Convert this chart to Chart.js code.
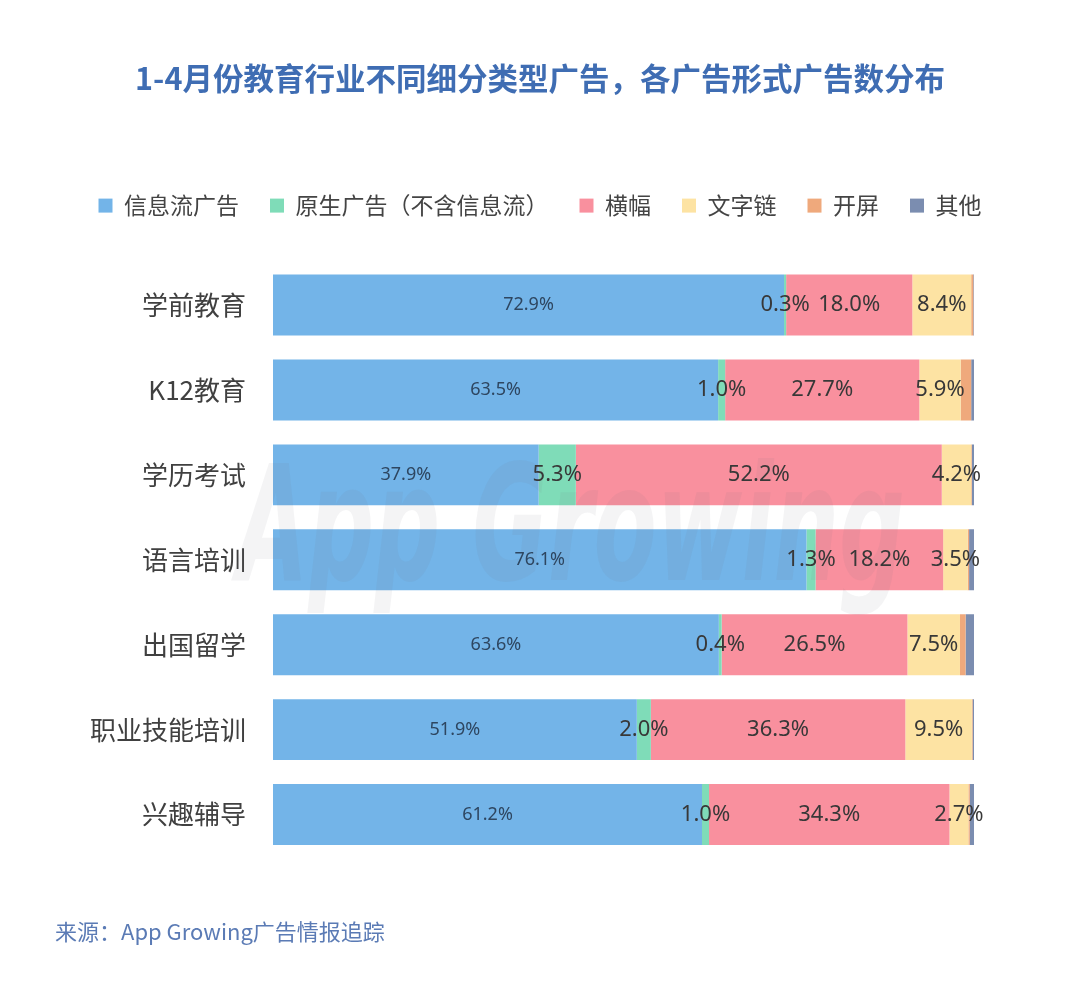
<!DOCTYPE html>
<html><head><meta charset="utf-8">
<script src="https://cdn.jsdelivr.net/npm/chart.js@4.4.1/dist/chart.umd.min.js"></script>
<style>html,body{margin:0;padding:0;background:#fff;}#wrap{width:1080px;height:987px;position:relative;}</style>
</head><body><div id="wrap"><canvas id="c" width="1080" height="987"></canvas></div>
<script>
const titleText = '1-4月份教育行业不同细分类型广告，各广告形式广告数分布';
const sourceText = '来源：App Growing广告情报追踪';
const watermarkText = 'App Growing';
const categories = ['学前教育', 'K12教育', '学历考试', '语言培训', '出国留学', '职业技能培训', '兴趣辅导'];
const seriesNames = ['信息流广告', '原生广告（不含信息流）', '横幅', '文字链', '开屏', '其他'];
const xinxiliu = [72.9, 63.5, 37.9, 76.1, 63.6, 51.9, 61.2];
const yuansheng = [0.3, 1.0, 5.3, 1.3, 0.4, 2.0, 1.0];
const hengfu = [18.0, 27.7, 52.2, 18.2, 26.5, 36.3, 34.3];
const wenzilian = [8.4, 5.9, 4.2, 3.5, 7.5, 9.5, 2.7];
const kaiping = [0.3, 1.5, 0.1, 0.2, 0.8, 0.1, 0.2];
const qita = [0.1, 0.4, 0.3, 0.7, 1.2, 0.2, 0.6];
const seriesValues = [xinxiliu, yuansheng, hengfu, wenzilian, kaiping, qita];
const seriesColors = ['#73b4e8', '#7fdcb8', '#f9909e', '#fde3a3', '#efa97c', '#7b8db0'];
const labeledSeries = [0, 1, 2, 3];

const FONT = '"Noto Sans", "Noto Sans CJK SC", sans-serif';
const CJK = '"Noto Sans CJK SC", "Noto Sans", sans-serif';

const extras = {
  id: 'extras',
  afterDatasetsDraw(chart) {
    const ctx = chart.ctx;
    // faint watermark
    ctx.save();
    ctx.font = 'italic bold 160px "DejaVu Sans", sans-serif';
    const w = ctx.measureText(watermarkText).width;
    ctx.translate(237, 580);
    ctx.scale(668 / w, 1);
    ctx.fillStyle = 'rgba(110,110,125,0.08)';
    ctx.textBaseline = 'alphabetic';
    ctx.textAlign = 'left';
    ctx.fillText(watermarkText, 0, 0);
    ctx.restore();
    // value labels
    ctx.save();
    ctx.textAlign = 'center';
    ctx.textBaseline = 'middle';
    labeledSeries.forEach(di => {
      const meta = chart.getDatasetMeta(di);
      const vals = chart.data.datasets[di].data;
      meta.data.forEach((el, i) => {
        const p = el.getProps(['x', 'base', 'y'], true);
        const cx = (p.x + p.base) / 2;
        ctx.font = (di === 0 ? '18px ' : '22px ') + FONT;
        ctx.fillStyle = di === 0 ? '#2e4660' : '#383838';
        ctx.fillText(vals[i].toFixed(1) + '%', cx, p.y);
      });
    });
    ctx.restore();
  },
  afterDraw(chart) {
    const ctx = chart.ctx;
    ctx.save();
    ctx.font = '22px ' + CJK;
    ctx.fillStyle = '#5b7bb5';
    ctx.textAlign = 'left';
    ctx.textBaseline = 'middle';
    ctx.fillText(sourceText, 55, 932);
    ctx.restore();
  }
};

new Chart(document.getElementById('c'), {
  type: 'bar',
  data: {
    labels: categories,
    datasets: seriesNames.map((n, i) => ({
      label: n,
      data: seriesValues[i],
      backgroundColor: seriesColors[i],
      borderWidth: 0,
      barPercentage: 0.718,
      categoryPercentage: 1.0
    }))
  },
  options: {
    indexAxis: 'y',
    responsive: false,
    animation: false,
    devicePixelRatio: 1,
    layout: { padding: { left: 40, right: 40, top: 0, bottom: 130 } },
    scales: {
      x: {
        stacked: true, min: 0, max: 100, position: 'top',
        grid: { display: false, drawTicks: false },
        border: { display: false },
        ticks: { display: false },
        title: { display: true, text: '', font: { size: 10 }, padding: { top: 23.5, bottom: 0 } }
      },
      y: {
        stacked: true,
        grid: { display: false, drawTicks: false },
        border: { display: false },
        ticks: { font: { size: 26, family: CJK }, color: '#404040', padding: 27 },
        afterFit(s) { s.width = 233; }
      },
      y2: {
        type: 'category', position: 'right', display: true,
        grid: { display: false, drawTicks: false },
        border: { display: false },
        ticks: { display: false },
        afterFit(s) { s.width = 66; }
      }
    },
    plugins: {
      title: {
        display: true, text: titleText, color: '#3f6db3',
        font: { size: 30.5, weight: 'bold', family: CJK },
        padding: { top: 60, bottom: 66.5 }
      },
      legend: {
        display: true, position: 'top',
        labels: {
          boxWidth: 14, boxHeight: 14, padding: 31,
          font: { size: 23, family: CJK }, color: '#444'
        }
      },
      tooltip: { enabled: false }
    }
  },
  plugins: [extras]
});
</script>
</body></html>
